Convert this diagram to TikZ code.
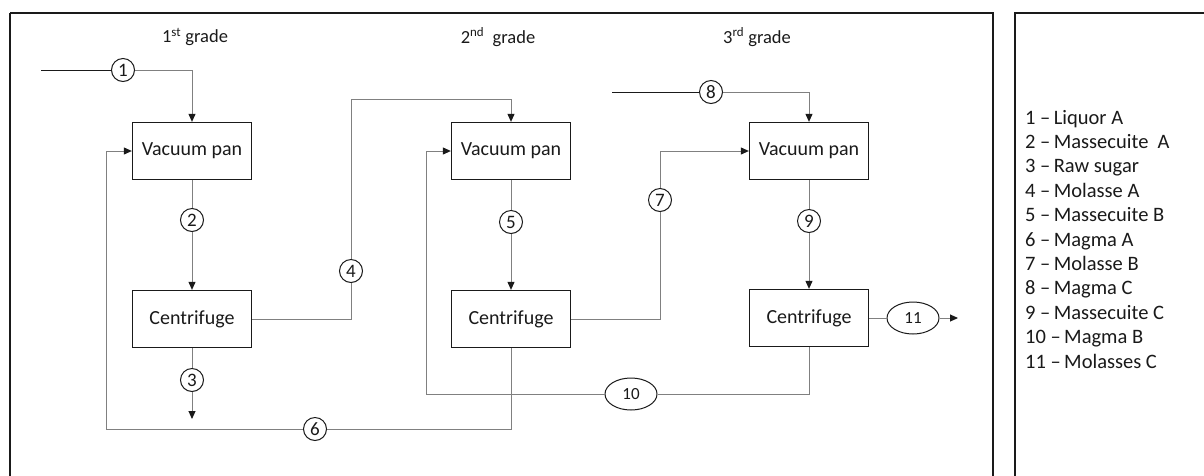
\documentclass[tikz,border=0pt]{standalone}
\usepackage{fontspec}
\setmainfont{Carlito}
\usetikzlibrary{arrows.meta,shapes.geometric}
\definecolor{wire}{HTML}{808080}
\definecolor{ink}{HTML}{1A1A1A}
\tikzset{
  unit/.style={draw=ink, line width=1.3pt, minimum width=119pt, minimum height=57pt, inner sep=0pt, font=\fontsize{20}{24}\selectfont, text=ink},
  num/.style={circle, draw=ink, line width=1pt, fill=white, minimum size=23pt, inner sep=0pt, font=\fontsize{19}{22}\selectfont, text=ink},
  oval/.style={ellipse, draw=ink, line width=1pt, fill=white, minimum width=52pt, minimum height=32pt, inner sep=0pt, font=\fontsize{17}{20}\selectfont, text=ink},
  wireline/.style={draw=wire, line width=1pt},
  feed/.style={draw=ink, line width=1pt},
  tip/.style={-{Triangle[length=8pt,width=7pt,color=ink]}},
  gradelabel/.style={font=\fontsize{18.5}{22}\selectfont, text=ink},
  legend/.style={anchor=base west, inner sep=0pt, font=\fontsize{20.5}{24}\selectfont, text=ink},
}
\begin{document}
\begin{tikzpicture}[x=1pt,y=-1pt]
\clip (0,0) rectangle (1204,475);
\fill[white] (0,0) rectangle (1204,475);
% frames
\draw[ink, line width=1.6pt] (10,13) -- (993,13) -- (993,490) (10,13) -- (10,490);
\draw[ink, line width=1.1pt] (1015,490) -- (1015,13) -- (1220,13);
% grade labels
\node[gradelabel] (g1) at (195,37) {1\textsuperscript{st} grade};
\node[gradelabel] (g2) at (498,37) {2\textsuperscript{nd}\ \ grade};
\node[gradelabel] (g3) at (757,37) {3\textsuperscript{rd} grade};
% units
\node[unit] (vp1) at (192,151) {Vacuum pan};
\node[unit] (vp2) at (511,151) {Vacuum pan};
\node[unit] (vp3) at (809,151) {Vacuum pan};
\node[unit] (cf1) at (192,319) {Centrifuge};
\node[unit] (cf2) at (511,319) {Centrifuge};
\node[unit] (cf3) at (809,318) {Centrifuge};
% free ends
\coordinate (in1) at (41,70);
\coordinate (in8) at (612,92);
\coordinate (out3) at (192,419);
\coordinate (out11) at (958,318);
% number markers
\node[num] (c1) at (123,70) {1};
\node[num] (c2) at (192,220) {2};
\node[num] (c3) at (192,380) {3};
\node[num] (c4) at (351,271) {4};
\node[num] (c5) at (511,222) {5};
\node[num] (c6) at (315,429) {6};
\node[num] (c7) at (660,200) {7};
\node[num] (c8) at (711,92) {8};
\node[num] (c9) at (809,221) {9};
\node[oval] (e10) at (631,394) {10};
\node[oval] (e11) at (913,318) {11};
% connectors
\draw[feed] (in1) -- (c1);
\draw[wireline, tip] (c1) -| (vp1.north);
\draw[wireline] (vp1.south) -- (c2);
\draw[wireline, tip] (c2) -- (cf1.north);
\draw[wireline] (cf1.south) -- (c3);
\draw[wireline, tip] (c3) -- (out3);
\draw[wireline] (cf1.east) -| (c4);
\draw[wireline, tip] (c4) |- (511,99) -- (vp2.north);
\draw[wireline] (vp2.south) -- (c5);
\draw[wireline, tip] (c5) -- (cf2.north);
\draw[wireline] (cf2.south) |- (c6);
\draw[wireline, tip] (c6) -| (106,151) -- (vp1.west);
\draw[wireline] (cf2.east) -| (c7);
\draw[wireline, tip] (c7) |- (vp3.west);
\draw[feed] (in8) -- (c8);
\draw[wireline, tip] (c8) -| (vp3.north);
\draw[wireline] (vp3.south) -- (c9);
\draw[wireline, tip] (c9) -- (cf3.north);
\draw[wireline] (cf3.south) |- (e10);
\draw[wireline, tip] (e10) -| (426,151) -- (vp2.west);
\draw[wireline] (cf3.east) -- (e11);
\draw[wireline, tip] (e11) -- (out11);
% legend
\foreach \t [count=\i] in {1 –\,Liquor A, 2 –\,Massecuite\ \ A, 3 –\,Raw sugar, 4 –\,Molasse A, 5 –\,Massecuite B, 6 –\,Magma A, 7 –\,Molasse B, 8 –\,Magma C, 9 –\,Massecuite C, 10 –\,Magma B, 11 –\,Molasses C}
  \node[legend] (leg\i) at (1025,{124+24.4*(\i-1)}) {\t};
\end{tikzpicture}
\end{document}
